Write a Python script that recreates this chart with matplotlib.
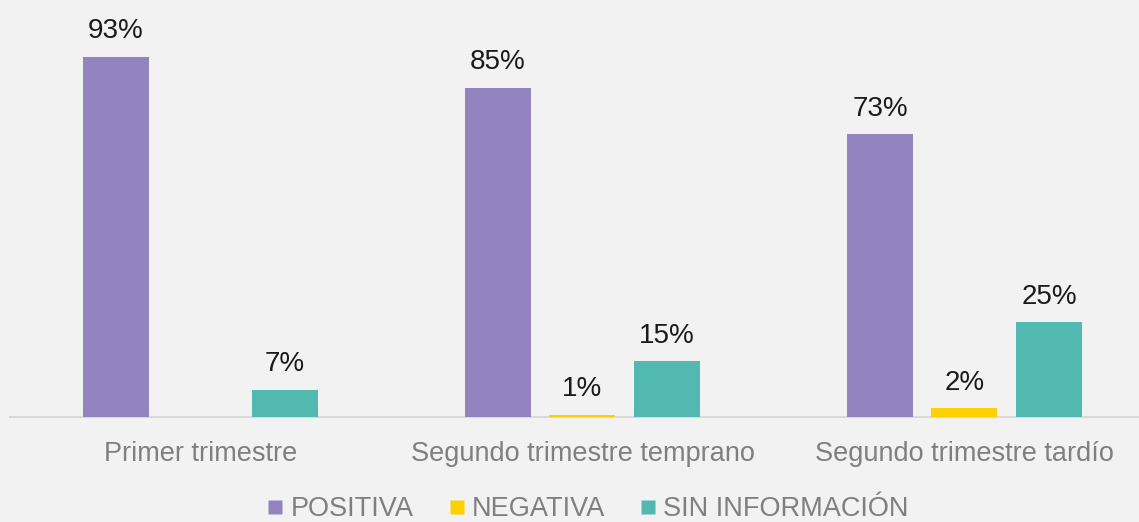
import matplotlib

matplotlib.use("Agg")
import matplotlib.pyplot as plt
from matplotlib.lines import Line2D

# data
categories = ["Primer trimestre", "Segundo trimestre temprano", "Segundo trimestre tardío"]
series_names = ["POSITIVA", "NEGATIVA", "SIN INFORMACIÓN"]
positiva = [93, 85, 73]
negativa = [None, 0.6, 2.2]
sin_info = [7, 14.4, 24.5]
positiva_labels = ["93%", "85%", "73%"]
negativa_labels = [None, "1%", "2%"]
sin_info_labels = ["7%", "15%", "25%"]

colors = ["#9384bf", "#ffd000", "#52b9b0"]

plt.rcParams["font.family"] = ["Liberation Sans", "DejaVu Sans"]

fig = plt.figure(figsize=(11.39, 5.22), dpi=100, facecolor="#f2f2f2")
ax = fig.add_axes([10 / 1139, 105 / 522, 1129 / 1139, 417 / 522])
ax.set_facecolor("#f2f2f2")

step = 84.5 / 382
width = 66 / 382
x = list(range(len(categories)))
all_series = [positiva, negativa, sin_info]
all_labels = [positiva_labels, negativa_labels, sin_info_labels]

for k, (vals, labs) in enumerate(zip(all_series, all_labels)):
    off = (k - 1) * step
    for i, (v, lab) in enumerate(zip(vals, labs)):
        if v is None:
            continue
        ax.bar(x[i] + off, v, width=width, color=colors[k], edgecolor="none", zorder=3)
        ax.annotate(lab, (x[i] + off, v), xytext=(0, 9), textcoords="offset points",
                    ha="center", va="bottom", fontsize=20, color="#1a1a1a")

ax.set_xlim(-190.5 / 382, 2 + 174.5 / 382)
ax.set_ylim(0, 417 / 3.871)
ax.set_xticks(x)
ax.set_xticklabels(categories, fontsize=19.5, color="#7f7f7f")
ax.tick_params(axis="x", length=0, pad=17)
ax.set_yticks([])
for s in ["left", "right", "top"]:
    ax.spines[s].set_visible(False)
ax.spines["bottom"].set_color("#d9d9d9")
ax.spines["bottom"].set_linewidth(1.5)
ax.spines["bottom"].set_zorder(2)

handles = [Line2D([], [], marker="s", linestyle="none", markersize=10,
                  markerfacecolor=c, markeredgecolor="none") for c in colors]
fig.legend(handles, series_names, loc="center", bbox_to_anchor=(588 / 1139, 1 - 509 / 522),
           ncol=3, frameon=False, handlelength=0.6, handletextpad=0.25, columnspacing=1.3,
           prop={"size": 19.5}, labelcolor="#7f7f7f")

fig.savefig("out.png", dpi=100, facecolor=fig.get_facecolor())
